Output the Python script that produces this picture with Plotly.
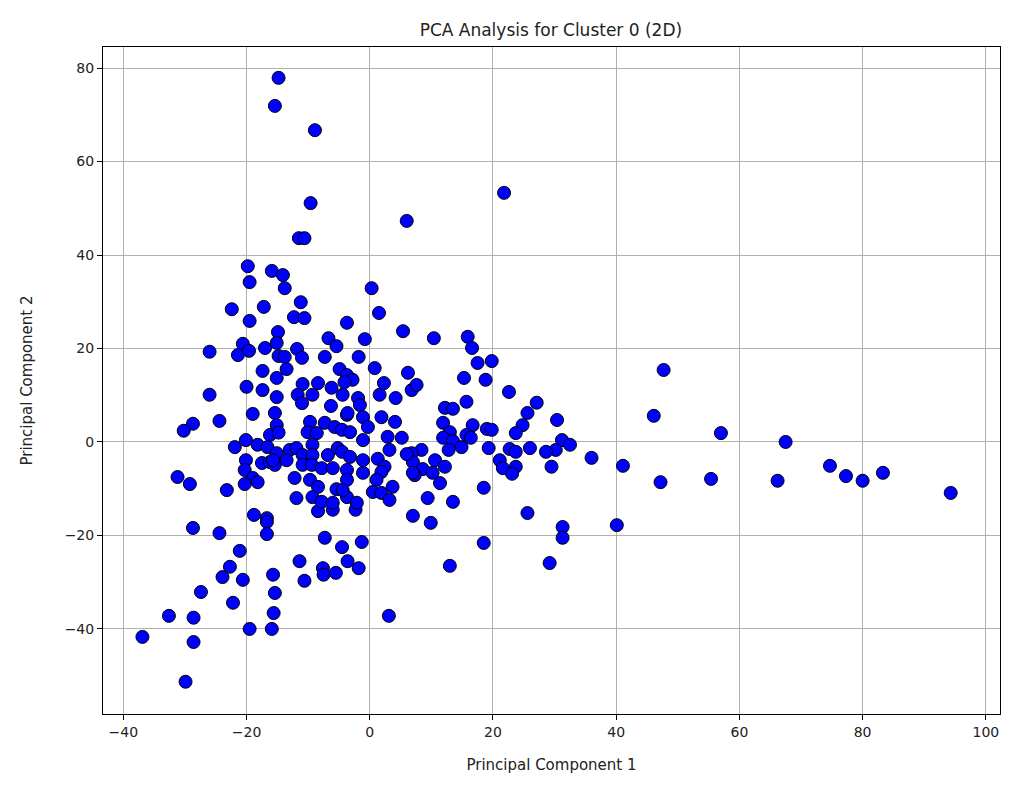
import plotly.graph_objects as go

# Principal component scores for the members of cluster 0
pc1 = [
    -14.8, -15.4, -8.9, -9.6, -11.5, -10.6, 6.0, 21.8,
    -19.8, -15.9, -14.1, -19.5, -13.8, -22.4, -17.2, -19.5, -14.9, -20.6, -26.0, -21.4,
    -19.6, -17.0, -15.1, -14.8, -17.4, -15.1, -20.0, -17.4, -26.0, -15.1,
    0.3, -11.2, -12.3, -10.6, 1.5, -3.7, 5.4, -6.7, -5.4, -0.8, -11.8, -13.8, -11.0,
    -7.3, -1.8, -13.5, -4.9, -3.7, -2.8, -4.1, 0.8, 6.2, -10.9, -8.4, -6.2, 2.3, 6.8,
    -11.7, -9.3, -4.4, 1.6, 4.2, -1.9,
    10.4, 15.9, 16.6, 17.5, 19.8, 15.3, 18.8, 22.6, 7.6, 15.7, 27.1,
    -19.0, -24.4, -28.7, -30.2, -15.4, -15.1, -16.2, -14.8, -21.9, -20.1, -18.2, -16.6,
    -20.1, -17.5, -16.2, -15.4, -20.3, -31.2, -29.2, -19.0, -18.2, -20.3, -23.2,
    -18.8, -16.7,
    -16.7, -28.7, -24.4, -16.7, -21.1, -22.7, -23.9, -20.6, -15.7, -27.4, -15.4,
    -22.2, -32.6, -28.6, -15.6, -19.5, -15.9, -36.9, -28.6, -29.9,
    -8.4, -6.0, -2.3, 7.0, -7.3, -1.3, -4.5, -11.4, -3.6, -7.6, -7.5, -5.5, -1.8,
    -10.6, 3.1,
    9.9, 18.5, 13.0, 25.6, 31.3, 31.3, 29.2,
    47.7, 30.4, 46.1, 57.0, 31.2, 32.5, 67.5, 30.2, 36.0, 41.1, 29.5, 47.2, 55.4,
    66.2, 74.7, 77.3, 80.0, 83.3, 94.3, 40.1,
    12.2, 13.5, 25.6, 11.9, 16.7, 19.0, 19.8, 24.8, 13.0, 23.7, 15.7, 11.9, 13.5,
    16.4, 14.9, 12.8, 19.3, 22.7, 23.7, 26.0, 28.6, 8.4, 6.8, 21.1, 10.6, 7.0, 21.6,
    23.7, 12.2, 8.6, 10.2, 23.1, 7.3, 11.4, 18.5, 9.4, 13.5,
    -11.0, -6.3, -3.7, -9.7, -7.3, -10.1, -8.6, -5.7, -4.5, -15.1, -13.0, -11.9,
    -9.3, -15.7, -13.5, -10.9, -9.3, -6.8, -5.2, -10.9, -9.4, -7.8, -6.0, -3.7,
    -12.2, -9.7, -8.4, -5.4, -11.9, -9.3, -7.8, -6.0, -3.7,
    -1.6, -3.6, -1.1, 1.9, 4.1, -0.3, -3.2, -1.1, 2.9, 5.2, 3.2, 6.0, -4.5, -3.2,
    -1.1, 1.3, 2.4, -1.1, 1.9, 7.0, -3.7, 1.1, 3.7, -4.4, 0.5, 1.9, -2.1, 3.2,
]
pc2 = [
    77.9, 71.9, 66.7, 51.1, 43.6, 43.6, 47.3, 53.3,
    37.6, 36.6, 35.7, 34.2, 32.9, 28.4, 28.9, 25.9, 23.5, 21.0, 19.3, 18.6,
    19.5, 20.1, 21.2, 18.4, 15.2, 13.7, 11.8, 11.1, 10.1, 9.6,
    32.9, 29.9, 26.7, 26.5, 27.6, 25.5, 23.7, 22.2, 20.5, 22.0, 19.9, 18.2, 18.0,
    18.2, 18.2, 15.6, 15.6, 14.3, 13.3, 12.8, 15.8, 14.8, 12.4, 12.6, 11.6, 12.6, 11.1,
    10.1, 10.1, 10.1, 10.1, 9.4, 9.4,
    22.2, 22.5, 20.1, 16.9, 17.3, 13.7, 13.3, 10.7, 12.2, 8.6, 8.4,
    6.0, 4.5, 3.9, 2.4, 6.2, 3.6, 1.5, 2.0, -1.1, 0.4, -0.6, -1.1,
    -3.9, -4.5, -4.3, -4.9, -6.0, -7.5, -9.0, -7.7, -8.6, -9.0, -10.3,
    -15.6, -16.3,
    -17.1, -18.4, -19.5, -19.7, -23.3, -26.7, -28.9, -29.5, -28.4, -32.1, -32.3,
    -34.4, -37.2, -37.6, -36.6, -40.0, -40.0, -41.7, -42.8, -51.3,
    -14.8, -14.5, -14.5, -15.8, -20.5, -21.4, -22.5, -25.5, -25.5, -27.0, -28.4, -28.0, -27.0,
    -29.7, -37.2,
    -17.3, -21.6, -26.5, -15.2, -18.2, -20.5, -25.9,
    15.4, 4.7, 5.6, 1.9, 0.4, -0.6, 0.0, -1.7, -3.4, -5.1, -5.3, -8.6, -7.9,
    -8.3, -5.1, -7.3, -8.3, -6.6, -10.9, -17.8,
    7.3, 7.1, 6.2, 4.1, 3.6, 2.8, 2.6, 3.6, 2.1, 1.9, 1.5, 0.9, 0.2,
    0.9, -1.1, -1.7, -1.3, -1.5, -2.1, -1.3, -2.1, -1.7, -2.4, -3.9, -3.9, -4.3, -5.6,
    -5.3, -5.3, -5.8, -6.6, -6.8, -7.1, -8.8, -9.8, -12.0, -12.8,
    8.3, 7.7, 5.8, 4.3, 4.1, 2.1, 1.9, 3.2, 2.6, -2.4, -1.7, -1.3,
    -0.6, -3.9, -3.9, -2.8, -2.8, -2.8, -1.3, -4.9, -4.9, -5.6, -5.6, -6.0,
    -7.7, -8.1, -9.6, -10.1, -12.0, -11.8, -12.8, -13.0, -11.8,
    7.9, 6.2, 5.3, 5.3, 4.3, 3.2, 2.1, 0.4, 1.1, 0.9, -1.7, -2.6, -2.1, -3.2,
    -3.9, -3.6, -5.3, -6.6, -6.4, -6.6, -8.1, -8.1, -9.6, -10.3, -10.7, -10.9, -13.0, -12.4,
]

x_ticks = [-40, -20, 0, 20, 40, 60, 80, 100]
y_ticks = [-40, -20, 0, 20, 40, 60, 80]

fig = go.Figure()
fig.add_trace(go.Scatter(
    x=pc1, y=pc2, mode="markers",
    marker=dict(size=13, color="#0000ff", line=dict(color="black", width=1)),
    showlegend=False,
))

axis_common = dict(
    showline=True, linecolor="black", linewidth=1, mirror=True,
    ticks="outside", ticklen=5, tickcolor="black",
    showgrid=True, gridcolor="#b0b0b0", gridwidth=1,
    zeroline=False,
    tickfont=dict(family="DejaVu Sans", size=14, color="#222"),
)

fig.update_layout(
    width=1009, height=787,
    paper_bgcolor="white", plot_bgcolor="white",
    margin=dict(l=103, r=9, t=47, b=73),
    title=dict(text="PCA Analysis for Cluster 0 (2D)", x=0.546, xanchor="center",
               y=0.962, yanchor="middle",
               font=dict(family="DejaVu Sans", size=17, color="#222")),
    xaxis=dict(axis_common, range=[-43.3, 102.3], tickvals=x_ticks,
               title=dict(text="Principal Component 1", standoff=20,
                          font=dict(family="DejaVu Sans", size=15, color="#222"))),
    yaxis=dict(axis_common, range=[-58.2, 84.5], tickvals=y_ticks,
               title=dict(text="Principal Component 2", standoff=28,
                          font=dict(family="DejaVu Sans", size=15, color="#222"))),
)

fig.write_html("out.html")
